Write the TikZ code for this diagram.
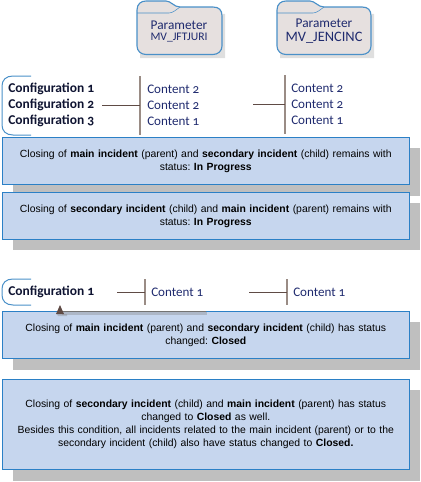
\documentclass[tikz,border=0pt]{standalone}
\usepackage{fontspec}
\setmainfont{Liberation Sans}
\newfontfamily\calfont[Numbers=OldStyle]{Carlito}
\definecolor{boxfill}{HTML}{C6D6EE}
\definecolor{boxline}{HTML}{2B80C6}
\definecolor{folderfill}{HTML}{E6E0DF}
\definecolor{folderline}{HTML}{4A90C8}
\definecolor{shade}{HTML}{BFBFBF}
\definecolor{linebrown}{HTML}{5F4B45}
\definecolor{vbar}{HTML}{9A8C85}
\definecolor{navy}{HTML}{1F2A6E}
\frenchspacing
\tikzset{
  x=0.75pt,y=-0.75pt,
  msgbox/.style={draw=boxline,fill=boxfill,line width=0.8pt,minimum width=406.5*0.75pt,inner sep=0pt,anchor=north west,align=center,font=\fontsize{7.8}{9.7}\selectfont,text width=400*0.75pt},
  shadowbox/.style={fill=shade,draw=none},
  conf/.style={font=\calfont\fontsize{10.1}{12}\selectfont\bfseries,text=navy!45!black,anchor=west,inner sep=0pt},
  cont/.style={font=\calfont\fontsize{9.8}{12}\selectfont,text=navy,anchor=west,inner sep=0pt},
  hline/.style={draw=linebrown,line width=0.75pt},
  vline/.style={draw=vbar,line width=0.9pt},
  brace/.style={draw=folderline,line width=0.75pt},
  folder/.style={draw=folderline,fill=folderfill,line width=0.85pt},
  foldertext/.style={font=\calfont\fontsize{10}{11}\selectfont,text=navy,inner sep=0pt}
}
% #1 left edge, #2 width, #3 tab end
\newcommand{\folderat}[3]{%
  \begin{scope}[shift={(#1,0)}]
  \fill[shade!50] (3,9) -- (3,58) -- ({#2+3},58) -- ({#2+3},14) -- cycle;
  \path[folder]
    (0,10) .. controls (0,4) and (4,1) .. (9,1) -- ({#3-8},1) .. controls ({#3-3},1) and ({#3},7) .. ({#3+6},7)
    -- ({#2-9},7) .. controls ({#2-3},7) and (#2,10) .. (#2,16) -- (#2,46) .. controls (#2,51) and ({#2-4},54.5) .. ({#2-9},54.5)
    -- (9,54.5) .. controls (4,54.5) and (0,51) .. (0,46) -- cycle;
  \draw[folderline,line width=0.4pt] (0,13) -- ({#3-5},13) .. controls ({#3-1},13) and ({#3+3},9) .. ({#3+6},7);
  \end{scope}
}
\begin{document}
\begin{tikzpicture}
\useasboundingbox (0,0) rectangle (421,482);
% folders
\folderat{137}{85}{37}
\folderat{277}{94}{41}
\node[foldertext] (f1a) at (179,25) {Parameter};
\node[foldertext,font=\calfont\fontsize{8.7}{9}\selectfont] (f1b) at (179,38) {MV\_JFTJURI};
\node[foldertext] (f2a) at (324,23) {Parameter};
\node[foldertext,font=\calfont\fontsize{10.8}{12}\selectfont] (f2b) at (324,38) {MV\_JENCINC};
% top configuration
\draw[brace] (31,76) -- (13,76) .. controls (6,76) and (2,80) .. (2,86) -- (2,125) .. controls (2,131) and (6,135) .. (13,135) -- (31,135);
\node[conf] (c1) at (8,89) {Configuration 1};
\node[conf] (c2) at (8,105) {Configuration 2};
\node[conf] (c3) at (8,121) {Configuration 3};
\coordinate (bar1t) at (140,76);
\coordinate (bar1b) at (140,135);
\draw[vline] (bar1t) -- (bar1b);
\coordinate (h1s) at (102,105);
\coordinate (h1e) at (140,105);
\draw[hline] (h1s) -- (h1e);
\node[cont] (a1) at (147,89) {Content 2};
\node[cont] (a2) at (147,105) {Content 2};
\node[cont] (a3) at (147,121) {Content 1};
\coordinate (bar2t) at (285,75);
\coordinate (bar2b) at (285,134);
\draw[vline] (bar2t) -- (bar2b);
\coordinate (h2s) at (253,104);
\coordinate (h2e) at (285,104);
\draw[hline] (h2s) -- (h2e);
\node[cont] (b1) at (291,88) {Content 2};
\node[cont] (b2) at (291,104) {Content 2};
\node[cont] (b3) at (291,120) {Content 1};
% shadows
\fill[shadowbox] (13,148) rectangle (420,196);
\fill[shadowbox] (13,203) rectangle (420,250);
\fill[shadowbox] (13,322) rectangle (420,370);
\fill[shadowbox] (13,390) rectangle (420,481);
% boxes
\node[msgbox,minimum height=47*0.75pt] (m1) at (2,137) {Closing of \textbf{main incident} (parent) and \textbf{secondary incident} (child) remains with\\status: \textbf{In Progress}};
\node[msgbox,minimum height=47*0.75pt] (m2) at (2,192) {Closing of \textbf{secondary incident} (child) and \textbf{main incident} (parent) remains with\\status: \textbf{In Progress}};
\node[msgbox,minimum height=47*0.75pt] (m3) at (2,311) {Closing of \textbf{main incident} (parent) and \textbf{secondary incident} (child) has status\\changed: \textbf{Closed}};
\node[msgbox,minimum height=90*0.75pt] (m4) at (2,379) {Closing of \textbf{secondary incident} (child) and \textbf{main incident} (parent) has status\\changed to \textbf{Closed} as well.\\Besides this condition, all incidents related to the main incident (parent) or to the\\secondary incident (child) also have status changed to \textbf{Closed.}};
% bottom configuration
\draw[brace] (31,279) -- (13,279) .. controls (6,279) and (2,283) .. (2,289) -- (2,295) .. controls (2,301) and (6,305) .. (13,305) -- (31,305);
\node[conf] (c4) at (8,292) {Configuration 1};
\coordinate (bar3t) at (145,279);
\coordinate (bar3b) at (145,305);
\draw[vline] (bar3t) -- (bar3b);
\coordinate (h3s) at (117,292);
\coordinate (h3e) at (145,292);
\draw[hline] (h3s) -- (h3e);
\node[cont] (a4) at (151,292) {Content 1};
\coordinate (bar4t) at (287,279);
\coordinate (bar4b) at (287,305);
\draw[vline] (bar4t) -- (bar4b);
\coordinate (h4s) at (249,292);
\coordinate (h4e) at (287,292);
\draw[hline] (h4s) -- (h4e);
\node[cont] (b4) at (293,292) {Content 1};
% marker line with soft shade
\fill[gray,opacity=0.35] (62,312) rectangle (207,315);
\fill[gray,opacity=0.35] (57,314) -- (67,314) -- (67,316) -- (58,316) -- cycle;
\coordinate (tipb) at (60,311.5);
\coordinate (tipe) at (206,311.5);
\draw[draw=gray!90!black,line width=0.8pt] (tipb) -- (tipe);
\fill[linebrown] (60,305) -- (56,314) -- (64,314) -- cycle;
\end{tikzpicture}
\end{document}
